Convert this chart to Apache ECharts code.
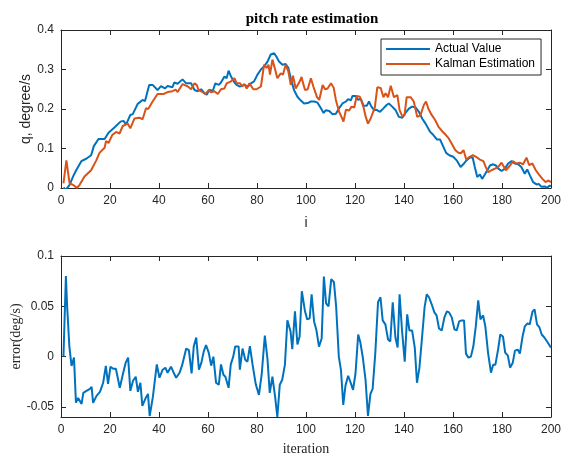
<!DOCTYPE html>
<html>
  <head>
    <meta charset="utf-8" />
    <title>pitch rate estimation</title>
    <script src="https://cdn.jsdelivr.net/npm/echarts@6.0.0/dist/echarts.min.js"></script>
  </head>
  <body style="margin:0;background:#fff;">
    <div id="main" style="width:564px;height:460px;"></div>
    <script type="text/javascript">
// top plot: actual pitch rate (blue)
const actualI = [1, 2, 3.5, 5, 6.2, 8.3, 10.3, 12.3, 13.4, 15.3, 17.8, 19.4, 21.8, 24.3, 25.5, 26.6, 28.3, 29.3, 31.3, 32, 33.3, 34.3, 36, 37.4, 39.4, 40.8, 42.4, 43.5, 45.5, 46.2, 47.6, 49.6, 51.1, 53.1, 54.5, 55.8, 57.2, 58.5, 59.5, 60.6, 61.9, 63, 64.4, 65.3, 66.7, 67.6, 68.4, 69.4, 70.8, 71.7, 72.8, 73.9, 74.8, 76.2, 77.5, 78.8, 80.2, 81.6, 82.9, 84.3, 85.6, 87, 87.9, 89, 90.4, 91.7, 92.8, 93.7, 95.1, 96.5, 97.8, 99.2, 100.7, 102, 103.4, 104.7, 106.1, 107.2, 108.1, 109.5, 110.8, 112.2, 113.5, 114.9, 116.3, 117.2, 118.3, 119, 120.3, 121.3, 122.4, 123.5, 124.8, 125.7, 126.7, 127.8, 128.8, 130.2, 131.5, 132.9, 133.8, 135.2, 136.6, 137.9, 139.3, 140.6, 142, 143.3, 144.7, 146.1, 147.4, 148.8, 150.7, 152, 153.4, 154.7, 155.8, 157.2, 158.5, 160.1, 161.5, 163.1, 164.2, 165.5, 166.9, 168, 168.9, 169.9, 171, 171.9, 173, 174, 175.1, 176.4, 177.5, 178.5, 179.8, 181.2, 182.5, 183.9, 185.2, 186.6, 187.9, 189.3, 190.3, 191.4, 192.7, 194.1, 195.1, 196.1, 197.4, 198.4, 199.5, 200];
const actualQ = [0.001, -0.004, 0.008, 0.03, 0.045, 0.068, 0.074, 0.083, 0.106, 0.124, 0.124, 0.14, 0.153, 0.168, 0.17, 0.161, 0.185, 0.187, 0.213, 0.208, 0.223, 0.22, 0.261, 0.261, 0.248, 0.258, 0.252, 0.258, 0.255, 0.267, 0.264, 0.275, 0.265, 0.265, 0.248, 0.245, 0.25, 0.24, 0.236, 0.249, 0.245, 0.265, 0.261, 0.267, 0.282, 0.278, 0.297, 0.282, 0.267, 0.261, 0.257, 0.258, 0.262, 0.256, 0.265, 0.27, 0.287, 0.3, 0.308, 0.32, 0.338, 0.341, 0.333, 0.32, 0.312, 0.314, 0.304, 0.28, 0.248, 0.231, 0.222, 0.214, 0.215, 0.219, 0.219, 0.216, 0.202, 0.19, 0.197, 0.195, 0.187, 0.188, 0.202, 0.214, 0.219, 0.225, 0.222, 0.233, 0.233, 0.223, 0.226, 0.208, 0.208, 0.219, 0.206, 0.197, 0.198, 0.193, 0.201, 0.21, 0.214, 0.206, 0.197, 0.18, 0.178, 0.19, 0.201, 0.206, 0.204, 0.193, 0.176, 0.163, 0.142, 0.134, 0.123, 0.123, 0.108, 0.089, 0.083, 0.079, 0.07, 0.053, 0.06, 0.07, 0.077, 0.078, 0.053, 0.028, 0.034, 0.023, 0.034, 0.045, 0.057, 0.06, 0.057, 0.049, 0.043, 0.049, 0.062, 0.068, 0.062, 0.06, 0.053, 0.036, 0.047, 0.032, 0.015, 0.009, 0.01, 0.003, 0.004, 0.001, 0.006, 0.004];

// top plot: Kalman estimate (orange)
const kalmanI = [1, 2.2, 3.5, 4.9, 5.6, 6.5, 7.6, 9.6, 12.3, 14.4, 15.7, 17.8, 18.4, 19.4, 20.9, 22.5, 23.9, 25.2, 27.2, 28.3, 30, 32, 33.3, 34.7, 35.6, 37.4, 39.4, 42, 43.5, 45.5, 46.8, 47.6, 49.6, 50.4, 51.8, 53.1, 54.5, 55.4, 56.2, 57.2, 57.9, 58.9, 60.3, 61.2, 62.6, 64, 65.3, 66.7, 67.6, 69.4, 70.8, 71.7, 73.1, 73.9, 74.8, 75.8, 76.9, 77.5, 78.5, 79.8, 81.6, 82.9, 83.9, 84.7, 85.3, 86.3, 87.4, 88.3, 89.7, 90.6, 91.7, 92.8, 93.8, 94.7, 95.8, 97.2, 98.2, 98.6, 99.6, 100.7, 102, 103, 104.5, 105.4, 106.8, 107.8, 108.8, 110.2, 111.3, 112.2, 113.5, 114.5, 115.3, 116.3, 117.6, 118.6, 119.7, 120.7, 122, 123.5, 124.4, 125.3, 126.4, 127.1, 128.1, 129.1, 130.5, 131.6, 132.5, 133.5, 134.6, 135.9, 137.3, 138.2, 139.3, 140.2, 141.1, 142.7, 144, 145.4, 146.7, 148.1, 149, 150, 151.3, 152.7, 154.1, 155.4, 156.8, 158.1, 159.5, 160.9, 162.2, 163.2, 164.3, 165.4, 166.8, 168.1, 169.4, 171, 172.4, 173.4, 174.4, 175.7, 177.1, 178.4, 179.8, 180.5, 181.6, 183, 184.6, 185.7, 187.3, 188.6, 190, 191.1, 192.4, 193.8, 195.1, 196.5, 197.8, 198.8, 200];
const kalmanQ = [0.012, 0.07, 0.012, 0.008, 0.01, 0.0, 0.008, 0.029, 0.045, 0.07, 0.089, 0.102, 0.119, 0.114, 0.134, 0.142, 0.138, 0.157, 0.163, 0.151, 0.176, 0.178, 0.174, 0.202, 0.2, 0.219, 0.238, 0.238, 0.243, 0.245, 0.249, 0.243, 0.263, 0.265, 0.257, 0.25, 0.265, 0.261, 0.248, 0.245, 0.25, 0.238, 0.248, 0.242, 0.245, 0.238, 0.25, 0.252, 0.265, 0.27, 0.278, 0.265, 0.265, 0.257, 0.263, 0.252, 0.265, 0.268, 0.25, 0.25, 0.257, 0.312, 0.304, 0.312, 0.287, 0.325, 0.3, 0.278, 0.29, 0.287, 0.312, 0.295, 0.261, 0.284, 0.252, 0.267, 0.281, 0.27, 0.248, 0.25, 0.278, 0.257, 0.23, 0.223, 0.261, 0.25, 0.252, 0.265, 0.254, 0.223, 0.193, 0.18, 0.168, 0.198, 0.196, 0.206, 0.204, 0.233, 0.231, 0.204, 0.18, 0.163, 0.176, 0.172, 0.204, 0.255, 0.253, 0.23, 0.24, 0.23, 0.259, 0.23, 0.235, 0.197, 0.182, 0.184, 0.23, 0.23, 0.219, 0.18, 0.184, 0.21, 0.219, 0.2, 0.185, 0.172, 0.155, 0.145, 0.136, 0.127, 0.112, 0.096, 0.089, 0.088, 0.096, 0.072, 0.079, 0.083, 0.079, 0.072, 0.068, 0.053, 0.04, 0.045, 0.049, 0.053, 0.064, 0.06, 0.045, 0.055, 0.068, 0.062, 0.064, 0.06, 0.077, 0.058, 0.062, 0.045, 0.034, 0.023, 0.015, 0.019, 0.015];

// bottom plot: estimation error
const errorI = [1, 2, 2.5, 3.4, 4.3, 5.3, 6.1, 7, 8.4, 9.1, 10.4, 11.8, 12.5, 13.1, 14.5, 15.9, 17.2, 18.3, 19.2, 20.2, 21.3, 22.4, 24, 25.3, 26.4, 27.4, 28.3, 29.4, 30.5, 31.4, 32.4, 33.2, 34.6, 35.5, 36.2, 37.5, 39.1, 40.2, 41.5, 42.6, 43.5, 44.9, 45.8, 47, 48.4, 49.5, 51.1, 52.2, 53.3, 54.2, 55.2, 56.3, 57.3, 58.3, 59.2, 60.3, 61.3, 62.2, 63.3, 64.4, 65.3, 66.3, 67.1, 68.4, 69.3, 70.3, 71.1, 72.5, 73, 74.1, 75.2, 76.1, 77.1, 78.2, 79.5, 80.8, 81.9, 83.2, 84.3, 85.2, 86.3, 87.4, 88.3, 89.3, 90.3, 91.4, 92.4, 93.7, 94.4, 95.5, 96.5, 97.4, 98.3, 99.6, 100.5, 101.5, 102.3, 103.3, 104.2, 105.3, 106.4, 107.3, 108.2, 109.2, 110.3, 111.4, 112.3, 113.4, 114.3, 115.2, 116.1, 117.2, 118.1, 119.2, 120.2, 121.3, 122.2, 123.2, 124.3, 125.3, 126.3, 127.2, 128.3, 129.4, 130.4, 131.3, 132.4, 133.5, 134.4, 135.4, 136.5, 137.4, 138.2, 139.2, 140.3, 141.3, 142.2, 143.3, 144.4, 145.3, 146.3, 147.4, 148.4, 149.3, 150.2, 151.3, 152.4, 153.3, 154.3, 155.4, 156.5, 157.5, 158.4, 159.5, 160.6, 161.5, 162.5, 163.6, 164.5, 165.3, 166.3, 167.3, 168.3, 169.3, 170.3, 171.2, 172.3, 173.2, 174.3, 175.5, 176.4, 177.3, 178.4, 179.3, 180.4, 181.3, 182.4, 183.3, 184.4, 185.3, 186.4, 187.3, 188.4, 189.3, 190.4, 191.3, 192.5, 193.3, 194.3, 195.3, 196.2, 197.3, 198.4, 199.7, 200];
const errorV = [0, 0.08, 0.05, 0.0105, -0.0093, -0.001, -0.0457, -0.041, -0.047, -0.036, -0.034, -0.032, -0.03, -0.046, -0.039, -0.035, -0.026, -0.0093, -0.027, -0.01, -0.012, -0.012, -0.031, -0.017, -0.006, -0.001, -0.034, -0.024, -0.02, -0.035, -0.026, -0.049, -0.041, -0.037, -0.059, -0.04, -0.0077, -0.021, -0.013, -0.011, -0.016, -0.01, -0.015, -0.021, -0.016, -0.008, 0.008, 0.0065, -0.0166, 0.0104, 0.019, -0.013, -0.006, 0.0055, 0.0115, 0.004, -0.009, 0, -0.026, -0.028, -0.0077, -0.018, -0.02, -0.031, -0.0077, 0, 0.01, 0.01, -0.013, 0.008, -0.003, -0.005, 0.0104, -0.008, -0.0275, -0.038, -0.018, 0.021, -0.003, -0.036, -0.02, -0.04, -0.06, -0.028, -0.023, -0.008, 0.036, 0.025, 0.0075, 0.045, 0.012, 0.02, 0.065, 0.045, 0.037, 0.038, 0.062, 0.035, 0.027, 0.01, 0.018, 0.0795, 0.053, 0.05, 0.077, 0.074, 0.05, 0, -0.014, -0.048, -0.029, -0.019, -0.025, -0.033, -0.017, 0.022, 0.014, -0.001, -0.023, -0.059, -0.037, -0.032, 0.004, 0.054, 0.059, 0.036, 0.032, 0.017, 0.015, 0.054, 0.019, 0.009, 0.062, 0.026, -0.005, 0.042, 0.026, 0.026, 0.009, -0.026, -0.011, 0.02, 0.049, 0.062, 0.059, 0.052, 0.044, 0.041, 0.028, 0.026, 0.039, 0.045, 0.044, 0.039, 0.027, 0.026, 0.035, 0.036, 0.036, 0.003, -0.001, 0, 0.01, 0.03, 0.056, 0.037, 0.041, 0.03, 0.004, -0.016, -0.008, -0.008, 0.007, 0.022, 0.02, 0.004, 0.001, -0.011, -0.006, 0.006, 0.007, 0.003, 0.02, 0.03, 0.033, 0.032, 0.045, 0.047, 0.032, 0.029, 0.022, 0.019, 0.015, 0.01, 0.009];

const errorTicks = [-0.05, 0, 0.05, 0.1];

const BLUE = '#0072BD';
const ORANGE = '#D95319';
const INK = '#262626';
const SANS = 'Liberation Sans';
const SERIF = 'Liberation Serif';

function pairs(xs, ys) {
  return xs.map(function (x, k) { return [x, ys[k]]; });
}

var chartDom = document.getElementById('main');
var myChart = echarts.init(chartDom);

var tickStyle = { inside: true, length: 5, lineStyle: { color: INK, width: 1 } };
var lineStyle = { show: true, onZero: false, lineStyle: { color: INK, width: 1 } };
var labelStyle = { color: INK, fontFamily: SANS, fontSize: 12 };

function xAx(grid, pos, name, nameFont) {
  var main = pos === 'bottom';
  return {
    type: 'value', gridIndex: grid, position: pos,
    min: 0, max: 200, interval: 20,
    axisLine: lineStyle, axisTick: tickStyle,
    axisLabel: Object.assign({ show: main, margin: 7 }, labelStyle),
    splitLine: { show: false },
    name: main ? name : '', nameLocation: 'middle', nameGap: grid === 0 ? 28 : 25,
    nameTextStyle: { color: INK, fontFamily: nameFont, fontSize: 14 }
  };
}

var option = {
  animation: false,
  backgroundColor: '#fff',
  title: {
    text: 'pitch rate estimation',
    left: 307, top: 7, textAlign: 'center',
    textStyle: { fontFamily: SERIF, fontWeight: 'bold', fontSize: 15, color: '#000' }
  },
  legend: {
    data: ['Actual Value', 'Kalman Estimation'],
    orient: 'vertical',
    left: 381, top: 39,
    padding: [4, 6, 5, 5],
    itemGap: 3,
    itemWidth: 44, itemHeight: 2,
    icon: 'rect',
    backgroundColor: '#fff',
    borderColor: INK, borderWidth: 1, borderRadius: 0,
    textStyle: { fontFamily: SANS, fontSize: 12, color: '#000' }
  },
  grid: [
    { left: 61, right: 11, top: 30, bottom: 272 },
    { left: 61, right: 11, top: 256, bottom: 43 }
  ],
  xAxis: [
    xAx(0, 'bottom', 'i', SANS),
    xAx(0, 'top', '', SANS),
    xAx(1, 'bottom', 'iteration', SERIF),
    xAx(1, 'top', '', SERIF)
  ],
  yAxis: [
    {
      type: 'value', gridIndex: 0, position: 'left',
      min: 0, max: 0.4, interval: 0.1,
      axisLine: lineStyle, axisTick: tickStyle,
      axisLabel: Object.assign({ margin: 7 }, labelStyle),
      splitLine: { show: false },
      name: 'q, degree/s', nameLocation: 'middle', nameGap: 28, nameMoveOverlap: false,
      nameTextStyle: { color: INK, fontFamily: SANS, fontSize: 14 }
    },
    {
      type: 'value', gridIndex: 0, position: 'right',
      min: 0, max: 0.4, interval: 0.1,
      axisLine: lineStyle, axisTick: tickStyle,
      axisLabel: { show: false }, splitLine: { show: false }
    },
    {
      type: 'value', gridIndex: 1, position: 'left',
      min: -0.06, max: 0.1,
      axisLine: lineStyle,
      axisTick: Object.assign({ customValues: errorTicks }, tickStyle),
      axisLabel: Object.assign({ margin: 7, customValues: errorTicks }, labelStyle),
      splitLine: { show: false },
      name: 'error(deg/s)', nameLocation: 'middle', nameGap: 38, nameMoveOverlap: false,
      nameTextStyle: { color: INK, fontFamily: SERIF, fontSize: 14 }
    },
    {
      type: 'value', gridIndex: 1, position: 'right',
      min: -0.06, max: 0.1,
      axisLine: lineStyle,
      axisTick: Object.assign({ customValues: errorTicks }, tickStyle),
      axisLabel: { show: false }, splitLine: { show: false }
    }
  ],
  series: [
    {
      name: 'Actual Value', type: 'line', xAxisIndex: 0, yAxisIndex: 0,
      data: pairs(actualI, actualQ), showSymbol: false, symbol: 'none',
      color: BLUE, lineStyle: { width: 2, color: BLUE }, z: 3
    },
    {
      name: 'Kalman Estimation', type: 'line', xAxisIndex: 0, yAxisIndex: 0,
      data: pairs(kalmanI, kalmanQ), showSymbol: false, symbol: 'none',
      color: ORANGE, lineStyle: { width: 2, color: ORANGE }, z: 4
    },
    {
      name: 'error', type: 'line', xAxisIndex: 2, yAxisIndex: 2,
      data: pairs(errorI, errorV), showSymbol: false, symbol: 'none',
      color: BLUE, lineStyle: { width: 2, color: BLUE }
    }
  ]
};

myChart.setOption(option);
    </script>
  </body>
</html>
